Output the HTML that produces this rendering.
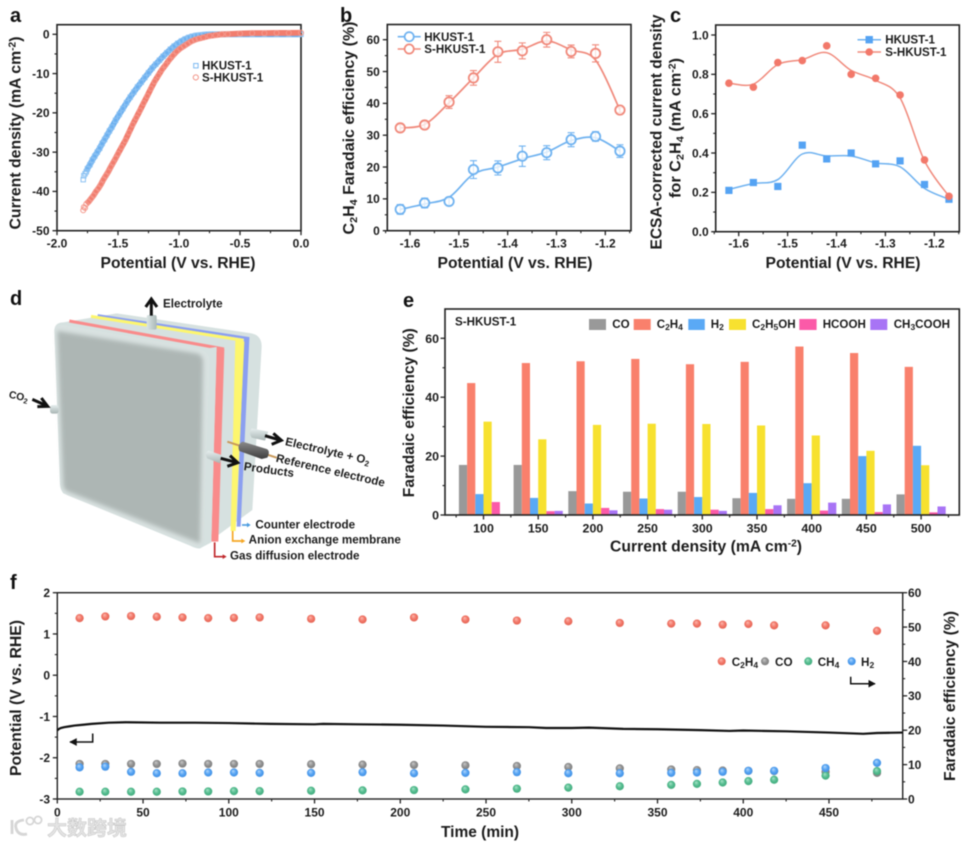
<!DOCTYPE html>
<html lang="en">
<head>
<meta charset="utf-8">
<title>HKUST-1 electrocatalysis figure</title>
<style>
html,body{margin:0;padding:0;background:#fff;width:968px;height:845px;overflow:hidden}
svg{display:block;filter:blur(.45px)}
text{font-family:"Liberation Sans","Noto Sans CJK SC",sans-serif;font-weight:bold;fill:#1c1c1c}
.title{font-size:15.5px}
.lab{font-size:20px;fill:#111}
.leg{font-size:11.6px}
.dg text{font-size:35px}
</style>
</head>
<body>
<svg id="figure" width="968" height="845" viewBox="0 0 968 845" xmlns="http://www.w3.org/2000/svg">
<defs>
<linearGradient id="gTube" x1="0" y1="0" x2="0" y2="1"><stop offset="0" stop-color="#e6eeee"/><stop offset="1" stop-color="#a8b5b4"/></linearGradient>
<linearGradient id="gTubeV" x1="0" y1="0" x2="1" y2="0"><stop offset="0" stop-color="#dbe5e5"/><stop offset="1" stop-color="#aab8b7"/></linearGradient>
<linearGradient id="gDark" x1="0" y1="0" x2="0" y2="1"><stop offset="0" stop-color="#8a8a8a"/><stop offset="1" stop-color="#3d3d3d"/></linearGradient>
<filter id="soft" x="-10%" y="-10%" width="120%" height="120%" color-interpolation-filters="sRGB"><feGaussianBlur stdDeviation="6"/></filter>
<radialGradient id="sC2H4" cx=".5" cy=".5" r=".55" fx=".38" fy=".3"><stop offset="0" stop-color="#fdb9ae"/><stop offset=".55" stop-color="#f2786a"/><stop offset="1" stop-color="#e2604f"/></radialGradient>
<radialGradient id="sCO" cx=".5" cy=".5" r=".55" fx=".38" fy=".3"><stop offset="0" stop-color="#c9c9c9"/><stop offset=".55" stop-color="#929292"/><stop offset="1" stop-color="#7a7a7a"/></radialGradient>
<radialGradient id="sCH4" cx=".5" cy=".5" r=".55" fx=".38" fy=".3"><stop offset="0" stop-color="#a8e4c8"/><stop offset=".55" stop-color="#55bd90"/><stop offset="1" stop-color="#3ea779"/></radialGradient>
<radialGradient id="sH2" cx=".5" cy=".5" r=".55" fx=".38" fy=".3"><stop offset="0" stop-color="#b4d8fb"/><stop offset=".55" stop-color="#55a3f3"/><stop offset="1" stop-color="#3d8ce0"/></radialGradient>
<marker id="mk" markerWidth="6" markerHeight="6" refX="4.5" refY="3" orient="auto"><path d="M0 0.4L5 3L0 5.6Z" fill="#111"/></marker>
</defs>

<!-- Panel a -->
<g id="panel-a">
<text class="lab" x="10" y="22">a</text>
<rect x="57" y="24.7" width="244" height="206" fill="none" stroke="#222" stroke-width="1.6"/>
<text class="title" x="178" y="268" text-anchor="middle" textLength="155" lengthAdjust="spacingAndGlyphs">Potential (V vs. RHE)</text>
<text class="title" transform="translate(20.5 133) rotate(-90)" text-anchor="middle" textLength="193" lengthAdjust="spacingAndGlyphs">Current density (mA cm<tspan font-size="10" dy="-5">-2</tspan><tspan dy="5">)</tspan></text>
<text class="leg" x="202" y="69.5">HKUST-1</text>
<text class="leg" x="202" y="81.5">S-HKUST-1</text>
<rect x="193.7" y="63.5" width="4.4" height="4.4" fill="none" stroke="#6fb2f0" stroke-width=".9"/>
<circle cx="195.8" cy="77.4" r="2.6" fill="none" stroke="#f0897b" stroke-width=".9"/>
</g>

<!-- Panel b -->
<g id="panel-b">
<text class="lab" x="340" y="22">b</text>
<rect x="387.3" y="24.5" width="243.7" height="206.2" fill="none" stroke="#222" stroke-width="1.6"/>
<text class="title" x="515" y="268" text-anchor="middle" textLength="155" lengthAdjust="spacingAndGlyphs">Potential (V vs. RHE)</text>
<text class="title" transform="translate(354 128) rotate(-90)" text-anchor="middle" textLength="213" lengthAdjust="spacingAndGlyphs">C<tspan font-size="10.5" dy="3">2</tspan><tspan dy="-3">H</tspan><tspan font-size="10.5" dy="3">4</tspan><tspan dy="-3"> Faradaic efficiency (%)</tspan></text>
<line x1="397.7" x2="420.7" y1="36.7" y2="36.7" stroke="#6fb2f0" stroke-width="1.6"/>
<circle cx="409.2" cy="36.7" r="4.6" fill="#fff" stroke="#6fb2f0" stroke-width="1.7"/>
<line x1="397.7" x2="420.7" y1="49" y2="49" stroke="#f0897b" stroke-width="1.6"/>
<circle cx="409.2" cy="49" r="4.6" fill="#fff" stroke="#f0897b" stroke-width="1.7"/>
<text class="leg" x="424.3" y="40.8">HKUST-1</text>
<text class="leg" x="424.3" y="53.1">S-HKUST-1</text>
</g>

<!-- Panel c -->
<g id="panel-c">
<text class="lab" x="670" y="22">c</text>
<rect x="715.7" y="25" width="243.6" height="206.7" fill="none" stroke="#222" stroke-width="1.6"/>
<text class="title" x="843" y="268" text-anchor="middle" textLength="155" lengthAdjust="spacingAndGlyphs">Potential (V vs. RHE)</text>
<text class="title" transform="translate(661.7 132) rotate(-90)" text-anchor="middle" textLength="235" lengthAdjust="spacingAndGlyphs">ECSA-corrected current density</text>
<text class="title" transform="translate(680.7 128) rotate(-90)" text-anchor="middle" textLength="140" lengthAdjust="spacingAndGlyphs">for C<tspan font-size="10.5" dy="3">2</tspan><tspan dy="-3">H</tspan><tspan font-size="10.5" dy="3">4</tspan><tspan dy="-3"> (mA cm</tspan><tspan font-size="10" dy="-5">-2</tspan><tspan dy="5">)</tspan></text>
<line x1="857.5" x2="881" y1="39.7" y2="39.7" stroke="#6fb2f0" stroke-width="1.5"/>
<rect x="865.5" y="36" width="7.4" height="7.4" fill="#55a3f3"/>
<line x1="857.5" x2="881" y1="52" y2="52" stroke="#f0897b" stroke-width="1.5"/>
<circle cx="869.2" cy="52" r="3.8" fill="#f2786a"/>
<text class="leg" x="885.3" y="43.7">HKUST-1</text>
<text class="leg" x="885.3" y="56">S-HKUST-1</text>
</g>

<!-- Panel d -->
<g id="panel-d">
<text class="lab" x="10" y="305">d</text>
<g class="dg" transform="translate(0 285) scale(.33333)">
<path d="M163 135Q165 112 190 112L350 85L755 145Q785 152 785 185L757 675L600 790Q590 792 570 782L190 625Q182 615 180 600Z" fill="#d6e1e0"/>
<path d="M293 91L748 160" stroke="#8b9ff0" stroke-width="7" fill="none"/>
<path d="M732 158L748 162L722 725L710 725Z" fill="#8b9ff0"/>
<path d="M273 94L730 166" stroke="#fdf66e" stroke-width="9" fill="none"/>
<path d="M706 164L733 170L707 738L692 738Z" fill="#fdf66e"/>
<path d="M208 108L672 192" stroke="#f98b8b" stroke-width="9" fill="none"/>
<path d="M650 186L673 192L655 770L634 770Z" fill="#f98b8b"/>
<path d="M608 192L650 186L634 772L600 790Z" fill="#d6e1e0"/>
<path d="M163 138Q164 116 190 120L590 190Q630 198 628 232L612 760Q608 792 578 782L205 632Q185 624 183 600Z" fill="#d9e2e1"/>
<path d="M172 138L592 206Q610 212 609 236L600 775L200 618Q192 612 190 600Z" fill="#adb6b4" filter="url(#soft)"/>
<rect x="440" y="90" width="30" height="44" rx="6" fill="url(#gTubeV)"/>
<rect x="150" y="360" width="26" height="26" rx="8" fill="url(#gTube)"/>
<path d="M625 497L665 510L660 535L622 520Q612 505 625 497Z" fill="url(#gTube)"/>
<path d="M755 430L805 440L795 467L755 458Q745 442 755 430Z" fill="url(#gTube)"/>
<path d="M682 470L830 518" stroke="#c8995a" stroke-width="6" fill="none"/>
<path d="M728 470L800 492Q812 498 802 518L785 522L718 498Q710 478 728 470Z" fill="url(#gDark)"/>
<g stroke="#111" stroke-width="9" fill="none">
<path d="M454 92V45M437 66L454 42L471 66"/>
<path d="M97 343L142 363M112 365L143 364L124 339"/>
<path d="M662 520L712 533M682 544L713 533L690 512"/>
<path d="M795 452L842 466M815 478L844 466L820 445"/>
</g>
<text x="489" y="67">Electrolyte</text>
<text transform="translate(25 338) rotate(12)" style="font-size:31px">CO<tspan style="font-size:22px" dy="7">2</tspan></text>
<text transform="translate(854 480) rotate(13)">Electrolyte + O<tspan style="font-size:24px" dy="7">2</tspan></text>
<text transform="translate(826 530) rotate(13)">Reference electrode</text>
<text transform="translate(730 555) rotate(8)">Products</text>
<path d="M726 720H745" stroke="#4d9de0" stroke-width="5"/>
<path d="M741 713L752 720L741 727Z" fill="#4d9de0"/>
<path d="M698 738V768H728" stroke="#f5a623" stroke-width="5" fill="none"/>
<path d="M724 761L736 768L724 775Z" fill="#f5a623"/>
<path d="M644 772V815H672" stroke="#c0282c" stroke-width="5" fill="none"/>
<path d="M668 808L680 815L668 822Z" fill="#c0282c"/>
<text x="766" y="731">Counter electrode</text>
<text x="746" y="776">Anion exchange membrane</text>
<text x="690" y="824">Gas diffusion electrode</text>
</g>
</g>

<!-- Panel e -->
<g id="panel-e">
<text class="lab" x="403" y="307">e</text>
<text class="title" transform="translate(414 412.7) rotate(-90)" text-anchor="middle" textLength="169" lengthAdjust="spacingAndGlyphs">Faradaic efficiency (%)</text>
<text class="title" x="706" y="551.7" text-anchor="middle" textLength="192" lengthAdjust="spacingAndGlyphs">Current density (mA cm<tspan font-size="10" dy="-5">-2</tspan><tspan dy="5">)</tspan></text>
<text x="455" y="325.3" font-size="11.6">S-HKUST-1</text>
<g id="e-legend">
<rect x="589" y="319" width="17" height="11" fill="#999"/>
<text x="612.3" y="328" font-size="11.6">CO</text>
<rect x="633.7" y="319" width="17" height="11" fill="#f9806c"/>
<text x="656.7" y="328" font-size="11.6">C<tspan font-size="8.5" dy="2">2</tspan><tspan dy="-2">H</tspan><tspan font-size="8.5" dy="2">4</tspan></text>
<rect x="688.3" y="319" width="16.5" height="11" fill="#5aa9f5"/>
<text x="710.7" y="328" font-size="11.6">H<tspan font-size="8.5" dy="2">2</tspan></text>
<rect x="729" y="319" width="17" height="11" fill="#f7e12f"/>
<text x="752" y="328" font-size="11.6">C<tspan font-size="8.5" dy="2">2</tspan><tspan dy="-2">H</tspan><tspan font-size="8.5" dy="2">5</tspan><tspan dy="-2">OH</tspan></text>
<rect x="799.3" y="319" width="17.3" height="11" fill="#fb5aa8"/>
<text x="822.7" y="328" font-size="11.6">HCOOH</text>
<rect x="870.3" y="319" width="17" height="11" fill="#a874f5"/>
<text x="893.7" y="328" font-size="11.6">CH<tspan font-size="8.5" dy="2">3</tspan><tspan dy="-2">COOH</tspan></text>
</g>
</g>

<!-- Panel f -->
<g id="panel-f">
<text class="lab" x="10" y="589">f</text>
<text class="title" x="480" y="837" text-anchor="middle">Time (min)</text>
<text class="title" transform="translate(21 698) rotate(-90)" text-anchor="middle" textLength="156" lengthAdjust="spacingAndGlyphs">Potential (V vs. RHE)</text>
<text class="title" transform="translate(955 696) rotate(-90)" text-anchor="middle" textLength="170" lengthAdjust="spacingAndGlyphs">Faradaic efficiency (%)</text>
<path d="M92.7 733.5V742H70" fill="none" stroke="#111" stroke-width="1.5" marker-end="url(#mk)"/>
<path d="M850.7 676.7V683.7H875" fill="none" stroke="#111" stroke-width="1.5" marker-end="url(#mk)"/>
<circle cx="721.7" cy="661.3" r="4" fill="url(#sC2H4)"/>
<text x="731.7" y="666" font-size="11.7">C<tspan font-size="8.5" dy="2">2</tspan><tspan dy="-2">H</tspan><tspan font-size="8.5" dy="2">4</tspan></text>
<circle cx="765" cy="661.3" r="4" fill="url(#sCO)"/>
<text x="775" y="666" font-size="11.7">CO</text>
<circle cx="808.3" cy="661.3" r="4" fill="url(#sCH4)"/>
<text x="817.7" y="666" font-size="11.7">CH<tspan font-size="8.5" dy="2">4</tspan></text>
<circle cx="851.7" cy="661.3" r="4" fill="url(#sH2)"/>
<text x="861" y="666" font-size="11.7">H<tspan font-size="8.5" dy="2">2</tspan></text>
</g>

<!-- Watermark -->
<g id="watermark">
<path d="M12 820V834M24 820Q14 821 16 828Q18 836 27 834" fill="none" stroke="#d6d6d6" stroke-width="2.8"/>
<circle cx="30" cy="821" r="3.6" fill="none" stroke="#d6d6d6" stroke-width="1.8"/>
<circle cx="38" cy="820" r="3.6" fill="none" stroke="#d6d6d6" stroke-width="1.8"/>
<text x="47" y="835" font-size="20" style="fill:#e4e4e4;stroke:#c4c4c4;stroke-width:.5">大数跨境</text>
</g>

<script>
// ---------- Panel a data ----------
const aXTicks = [-2, -1.5, -1, -0.5, 0];
const aXLabels = ['-2.0', '-1.5', '-1.0', '-0.5', '0.0'];
const aXMinor = [-1.75, -1.25, -0.75, -0.25];
const aYTicks = [0, -10, -20, -30, -40, -50];
const aYLabels = ['0', '-10', '-20', '-30', '-40', '-50'];
const aYMinor = [-5, -15, -25, -35, -45];
const aHkustV = [-1.785,-1.78,-1.77,-1.76,-1.75,-1.73,-1.71,-1.69,-1.67,-1.65,-1.63,-1.61,-1.59,-1.57,-1.55,-1.52,-1.49,-1.46,-1.43,-1.40,-1.37,-1.34,-1.31,-1.28,-1.25,-1.22,-1.19,-1.16,-1.13,-1.10,-1.07,-1.04,-1.01,-0.98,-0.95,-0.92,-0.89,-0.86,-0.83,-0.8,-0.75,-0.7,-0.65,-0.6,-0.5,-0.4,-0.3,-0.2,-0.1,0];
const aHkustJ = [-37,-36,-35.5,-35,-34.2,-33.2,-32,-31,-30,-29,-27.8,-26.8,-25.7,-24.6,-23.6,-21.9,-20.4,-18.9,-17.4,-16,-14.7,-13.4,-12.2,-11,-9.8,-8.6,-7.6,-6.6,-5.6,-4.7,-3.8,-3,-2.3,-1.7,-1.2,-0.8,-0.5,-0.3,-0.2,-0.1,0,0,0,0,0,0,0,0,0,0];
const aSV = [-1.785,-1.78,-1.77,-1.76,-1.74,-1.72,-1.70,-1.68,-1.66,-1.64,-1.62,-1.60,-1.58,-1.56,-1.54,-1.52,-1.50,-1.47,-1.44,-1.41,-1.38,-1.35,-1.32,-1.29,-1.26,-1.23,-1.20,-1.17,-1.14,-1.11,-1.08,-1.05,-1.02,-0.99,-0.96,-0.93,-0.90,-0.87,-0.84,-0.80,-0.75,-0.7,-0.65,-0.6,-0.5,-0.4,-0.3,-0.2,-0.1,0];
const aSJ = [-44.8,-44,-44.2,-43.2,-42.6,-41.8,-41,-40,-39.2,-38.2,-37,-36,-35,-33.8,-32.7,-31.6,-30.4,-28.7,-27,-25,-23,-21.2,-19.4,-17.5,-15.7,-13.8,-12,-10.5,-9,-7.8,-6.5,-5.4,-4.4,-3.6,-3,-2.4,-1.8,-1.4,-1.1,-0.8,-0.4,-0.2,0,0.05,0.2,0.3,0.3,0.35,0.35,0.4];

// ---------- Panels b and c data ----------
const potentials = [-1.62,-1.57,-1.52,-1.47,-1.42,-1.37,-1.32,-1.27,-1.22,-1.17];
const pXTicks = [-1.6,-1.5,-1.4,-1.3,-1.2];
const pXLabels = ['-1.6','-1.5','-1.4','-1.3','-1.2'];
const pXMinor = [-1.55,-1.45,-1.35,-1.25,-1.65,-1.15];
const bYTicks = [0,10,20,30,40,50,60];
const bYLabels = ['0','10','20','30','40','50','60'];
const bYMinor = [5,15,25,35,45,55];
const bHkust = [6.7,8.7,9.2,19.2,19.7,23.4,24.5,28.6,29.6,25];
const bHkustErr = [1.5,1.5,1.2,2.8,2.2,3.2,2.2,2.2,1.5,2];
const bHkustFit = [6.7,8.4,10.5,17.8,20,22.6,24.7,28.3,29.2,25];
const bS = [32.3,33.2,40.4,48,56.2,56.5,60,56.3,55.7,37.9];
const bSErr = [1,1,2,2.3,3.3,2.5,2.3,2,2.7,0.8];
const bSFit = [32.3,33.4,40.2,48,55.4,57,59.6,56.8,53.6,37.9];
const cYTicks = [0,0.2,0.4,0.6,0.8,1];
const cYLabels = ['0.0','0.2','0.4','0.6','0.8','1.0'];
const cYMinor = [0.1,0.3,0.5,0.7,0.9];
const cHkust = [0.21,0.25,0.23,0.44,0.37,0.40,0.345,0.36,0.24,0.165];
const cHkustFit = [0.215,0.245,0.265,0.395,0.385,0.385,0.35,0.33,0.22,0.165];
const cS = [0.755,0.735,0.86,0.87,0.945,0.80,0.78,0.695,0.365,0.18];
const cSFit = [0.755,0.75,0.85,0.875,0.91,0.82,0.77,0.68,0.36,0.18];

// ---------- Panel e data ----------
const eCategories = ['100','150','200','250','300','350','400','450','500'];
const eCO = [17,17,8.1,7.9,7.9,5.7,5.5,5.5,7];
const eC2H4 = [44.8,51.6,52.2,53,51.2,52,57.2,55,50.3];
const eH2 = [7.1,5.8,3.9,5.6,6.1,7.5,10.8,20,23.5];
const eC2H5OH = [31.7,25.7,30.6,31,30.9,30.4,27,21.8,16.9];
const eHCOOH = [4.4,1.3,2.4,2,1.8,2,1.5,1,0.9];
const eCH3COOH = [0,1.4,1.6,1.8,1.4,3.3,4.2,3.6,2.9];
const eYTicks = [0,20,40,60];
const eYLabels = ['0','20','40','60'];
const eYMinor = [10,30,50];

// ---------- Panel f data ----------
const fTimes = [13,28,43,58,73,88,103,118,148,178,208,238,268,298,328,358,373,388,403,418,448,478];
const fC2H4 = [52.6,53.1,53.2,53,52.8,52.6,52.7,52.8,52.4,52.2,52.8,52.2,51.9,51.7,51.2,51,51,50.7,50.9,50.5,50.5,48.9];
const fCO = [10.2,10.2,10.2,10.2,10.3,10.2,10.2,10.2,10.1,10,9.9,9.8,9.6,9.3,8.9,8.6,8.4,8.3,8.2,8.1,7.9,7.6];
const fCH4 = [2.1,2.1,2.1,2.1,2.2,2.2,2.3,2.3,2.4,2.5,2.6,2.8,3,3.3,3.7,4.1,4.4,4.8,5.2,5.6,6.8,8.1];
const fH2 = [9.2,9.4,7.9,7.5,7.5,7.7,7.7,7.6,7.6,7.8,7.5,7.6,7.8,7.5,7.5,7.6,7.7,7.9,8.2,8.2,9,10.5];
const fLineT = [0,1,2,4,7,10,15,20,30,40,60,80,100,125,150,155,175,200,225,250,275,285,300,310,330,350,375,392,400,425,450,470,478,493];
const fLineV = [-1.34,-1.3,-1.28,-1.26,-1.24,-1.22,-1.2,-1.18,-1.15,-1.14,-1.15,-1.15,-1.16,-1.18,-1.19,-1.18,-1.19,-1.2,-1.22,-1.25,-1.26,-1.28,-1.28,-1.27,-1.3,-1.31,-1.33,-1.35,-1.34,-1.36,-1.39,-1.42,-1.4,-1.39];
const fXTicks = [0,50,100,150,200,250,300,350,400,450];
const fXLabels = ['0','50','100','150','200','250','300','350','400','450'];
const fXMinor = [25,75,125,175,225,275,325,375,425,475];
const fLYTicks = [2,1,0,-1,-2,-3];
const fLYLabels = ['2','1','0','-1','-2','-3'];
const fLYMinor = [1.5,0.5,-0.5,-1.5,-2.5];
const fRYTicks = [0,10,20,30,40,50,60];
const fRYLabels = ['0','10','20','30','40','50','60'];
const fRYMinor = [5,15,25,35,45,55];

// ---------- helpers ----------
const NS = 'http://www.w3.org/2000/svg';
const DARK = '#222';
function mk(tag, attrs, parent, txt) {
  const el = document.createElementNS(NS, tag);
  for (const k in attrs) el.setAttribute(k, attrs[k]);
  if (txt !== undefined) el.textContent = txt;
  parent.appendChild(el);
  return el;
}
function linear(d0, d1, r0, r1) { return function (v) { return r0 + (v - d0) * (r1 - r0) / (d1 - d0); }; }
function group(parent, name) {
  const g = mk('g', {}, parent);
  
  
  return g;
}
// orient: bottom | left | right
function axis(parent, name, orient, pos, scale, ticks, labels, minor, fontSize, labelGap) {
  const g = group(parent, name);
  const dir = orient === 'left' ? -1 : 1;
  ticks.forEach(function (v, i) {
    const p = scale(v);
    const tick = orient === 'bottom'
      ? mk('line', {x1: p, x2: p, y1: pos, y2: pos + 4.5, stroke: DARK, 'stroke-width': 1.3}, g)
      : mk('line', {x1: pos, x2: pos + dir * 4.5, y1: p, y2: p, stroke: DARK, 'stroke-width': 1.3}, g);
    
    
    const lab = orient === 'bottom'
      ? mk('text', {x: p, y: pos + labelGap, 'text-anchor': 'middle', 'font-size': fontSize}, g, labels[i])
      : mk('text', {x: pos + dir * labelGap, y: p + fontSize * 0.36, 'text-anchor': orient === 'left' ? 'end' : 'start', 'font-size': fontSize}, g, labels[i]);
    
    
  });
  minor.forEach(function (v) {
    const p = scale(v);
    const tick = orient === 'bottom'
      ? mk('line', {x1: p, x2: p, y1: pos, y2: pos + 2.5, stroke: DARK, 'stroke-width': 1.1}, g)
      : mk('line', {x1: pos, x2: pos + dir * 2.5, y1: p, y2: p, stroke: DARK, 'stroke-width': 1.1}, g);
    
    
  });
}
function smooth(pts) {
  let d = 'M' + pts[0][0] + ' ' + pts[0][1];
  for (let i = 0; i < pts.length - 1; i++) {
    const p0 = pts[Math.max(i - 1, 0)], p1 = pts[i], p2 = pts[i + 1], p3 = pts[Math.min(i + 2, pts.length - 1)];
    d += 'C' + (p1[0] + (p2[0] - p0[0]) / 6) + ' ' + (p1[1] + (p2[1] - p0[1]) / 6) + ' ' +
      (p2[0] - (p3[0] - p1[0]) / 6) + ' ' + (p2[1] - (p3[1] - p1[1]) / 6) + ' ' + p2[0] + ' ' + p2[1];
  }
  return d;
}
function polyPts(xs, ys, sx, sy) { return xs.map(function (x, i) { return sx(x) + ',' + sy(ys[i]); }).join(' '); }

// ---------- Panel a ----------
(function () {
  const P = document.getElementById('panel-a');
  const x = linear(-2, 0, 57, 301), y = linear(0, -50, 34.3, 230.7);
  axis(P, 'x-axis-a', 'bottom', 230.7, x, aXTicks, aXLabels, aXMinor, 12, 17);
  axis(P, 'y-axis-a', 'left', 57, y, aYTicks, aYLabels, aYMinor, 12, 7.5);
  const bandH = mk('polyline', {points: polyPts(aHkustV.slice(3), aHkustJ.slice(3), x, y), fill: 'none', stroke: '#6db0ef', 'stroke-width': 5.8}, P);
  
  
  aHkustV.forEach(function (v, i) {
    const m = mk('rect', {x: x(v) - 2.2, y: y(aHkustJ[i]) - 2.2, width: 4.4, height: 4.4, fill: 'none', stroke: '#8cc2f3', 'stroke-width': 1}, P);
    
    
  });
  const bandS = mk('polyline', {points: polyPts(aSV.slice(3), aSJ.slice(3), x, y), fill: 'none', stroke: '#f17d6e', 'stroke-width': 5.8}, P);
  
  
  aSV.forEach(function (v, i) {
    const m = mk('circle', {cx: x(v), cy: y(aSJ[i]), r: 2.5, fill: 'none', stroke: '#f4998d', 'stroke-width': 1}, P);
    
    
  });
})();

// ---------- Panel b ----------
(function () {
  const P = document.getElementById('panel-b');
  const x = linear(-1.6, -1.2, 410, 605.3), y = linear(0, 60, 230.7, 39.7);
  axis(P, 'x-axis-b', 'bottom', 230.7, x, pXTicks, pXLabels, pXMinor, 12, 17);
  axis(P, 'y-axis-b', 'left', 387.3, y, bYTicks, bYLabels, bYMinor, 12, 7.5);
  function series(vals, errs, fit, color, key) {
    const line = mk('path', {d: smooth(fit.map(function (v, i) { return [x(potentials[i]), y(v)]; })), fill: 'none', stroke: color, 'stroke-width': 1.7}, P);
    
    
    vals.forEach(function (v, i) {
      const px = x(potentials[i]);
      const up = y(v + errs[i]), dn = y(v - errs[i]);
      const e = mk('path', {d: 'M' + px + ' ' + up + 'V' + dn + 'M' + (px - 3.5) + ' ' + up + 'H' + (px + 3.5) + 'M' + (px - 3.5) + ' ' + dn + 'H' + (px + 3.5), fill: 'none', stroke: color, 'stroke-width': 1.1}, P);
      
      
      const c = mk('circle', {cx: px, cy: y(v), r: 4.7, fill: '#fff', 'fill-opacity': 0.75, stroke: color, 'stroke-width': 1.8}, P);
      
      
    });
  }
  series(bHkust, bHkustErr, bHkustFit, '#6fb2f0', 'hkust');
  series(bS, bSErr, bSFit, '#f0897b', 's-hkust');
})();

// ---------- Panel c ----------
(function () {
  const P = document.getElementById('panel-c');
  const x = linear(-1.6, -1.2, 738.7, 934.3), y = linear(0, 1, 231.7, 35);
  axis(P, 'x-axis-c', 'bottom', 231.7, x, pXTicks, pXLabels, pXMinor, 12, 16);
  axis(P, 'y-axis-c', 'left', 715.7, y, cYTicks, cYLabels, cYMinor, 12, 7);
  const l1 = mk('path', {d: smooth(cHkustFit.map(function (v, i) { return [x(potentials[i]), y(v)]; })), fill: 'none', stroke: '#6fb2f0', 'stroke-width': 1.5}, P);
  
  
  const l2 = mk('path', {d: smooth(cSFit.map(function (v, i) { return [x(potentials[i]), y(v)]; })), fill: 'none', stroke: '#f0897b', 'stroke-width': 1.5}, P);
  
  
  cHkust.forEach(function (v, i) {
    const m = mk('rect', {x: x(potentials[i]) - 3.6, y: y(v) - 3.6, width: 7.2, height: 7.2, fill: '#55a3f3'}, P);
    
    
  });
  cS.forEach(function (v, i) {
    const m = mk('circle', {cx: x(potentials[i]), cy: y(v), r: 3.8, fill: '#f2786a'}, P);
    
    
  });
})();

// ---------- Panel e ----------
(function () {
  const P = document.getElementById('panel-e');
  const step = 54.7, x0 = 483.5, barW = 8.2;
  const y = linear(0, 60, 515, 338.3);
  const series = [[eCO, '#999999', 'co'], [eC2H4, '#f9806c', 'c2h4'], [eH2, '#5aa9f5', 'h2'], [eC2H5OH, '#f7e12f', 'c2h5oh'], [eHCOOH, '#fb5aa8', 'hcooh'], [eCH3COOH, '#a874f5', 'ch3cooh']];
  series.forEach(function (s, si) {
    s[0].forEach(function (v, i) {
      const cx = x0 + i * step;
      const b = mk('rect', {x: cx - 3 * barW + si * barW, y: y(v), width: barW, height: y(0) - y(v), fill: s[1]}, P);
      
      
    });
  });
  const frame = mk('rect', {x: 445, y: 309, width: 514.3, height: 206, fill: 'none', stroke: DARK, 'stroke-width': 1.6}, P);
  
  
  const catIdx = eCategories.map(function (_, i) { return i; });
  const edges = eCategories.concat(['end']).map(function (_, i) { return i - 0.5; });
  const xs = linear(0, 1, x0, x0 + step);
  axis(P, 'x-axis-e', 'bottom', 515, xs, catIdx, eCategories, edges, 12.4, 17.3);
  axis(P, 'y-axis-e', 'left', 445, y, eYTicks, eYLabels, eYMinor, 12.4, 6);
})();

// ---------- Panel f ----------
(function () {
  const P = document.getElementById('panel-f');
  const x = linear(0, 450, 57.3, 829);
  const yL = linear(2, -3, 592.7, 799);
  const yR = linear(0, 60, 799, 592.7);
  const frame = mk('rect', {x: 57.3, y: 592.7, width: 845.4, height: 206.3, fill: 'none', stroke: DARK, 'stroke-width': 1.4}, P);
  
  
  axis(P, 'x-axis-f', 'bottom', 799, x, fXTicks, fXLabels, fXMinor, 12, 17.7);
  axis(P, 'left-y-axis-f', 'left', 57.3, yL, fLYTicks, fLYLabels, fLYMinor, 12, 7.3);
  axis(P, 'right-y-axis-f', 'right', 902.7, yR, fRYTicks, fRYLabels, fRYMinor, 12, 5.3);
  const line = mk('polyline', {points: polyPts(fLineT, fLineV, x, yL), fill: 'none', stroke: '#111', 'stroke-width': 2.2}, P);
  
  
  const series = [[fC2H4, 'sC2H4', 'c2h4'], [fCO, 'sCO', 'co'], [fCH4, 'sCH4', 'ch4'], [fH2, 'sH2', 'h2']];
  series.forEach(function (s) {
    s[0].forEach(function (v, i) {
      const c = mk('circle', {cx: x(fTimes[i]), cy: yR(v), r: 4.1, fill: 'url(#' + s[1] + ')'}, P);
      
      
    });
  });
})();
</script>
</svg>
</body>
</html>
